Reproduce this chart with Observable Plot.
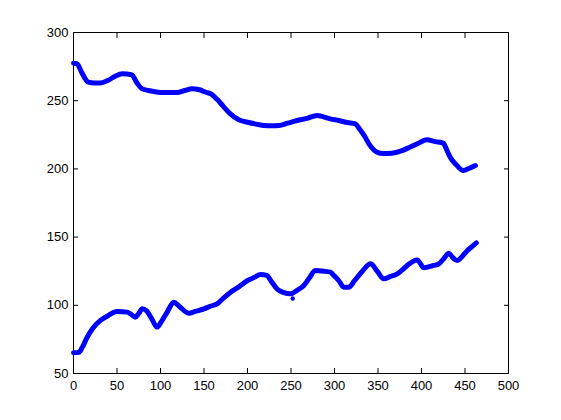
<!DOCTYPE html>
<html><head><meta charset="utf-8">
<script src="https://cdn.jsdelivr.net/npm/d3@7"></script>
<script src="https://cdn.jsdelivr.net/npm/@observablehq/plot@0.6"></script>
<style>
html,body{margin:0;padding:0;background:#fff;}
svg{font-family:"Liberation Sans",Arial,sans-serif;}
</style></head><body>
<div id="chart"></div>
<script>
const upperX = [0,4,10,17,24,31,40,48,56,62,67,73,79,86,92,100,110,119,128,136,145,152,158,165,172,180,190,200,210,219,228,236,246,257,268,280,288,295,305,315,324,329,334,340,345,349,356,366,376,387,397,406,416,425,429,433,440,448,455,462];
const upperY = [277.5,277,270,263.6,263,263,265,268,269.7,269.5,269,263,258.7,257.5,256.7,256,256,256,257.5,258.7,258,256.2,255,251,246,240.5,236,234.2,232.8,231.8,231.6,231.8,233.5,235.5,237,239.2,238,236.7,235.5,234,233,229,224.5,218,214,212.2,211.2,211.5,213,216,219,221.3,220,218.9,214,208.6,203,198.8,200.5,202.5];
const lowerX = [0,6,10,15.7,22,31,40,50,61.7,66,71,75,79,84,90,96,101,107.7,115.3,122,132.6,140,150,158,165,172,180.5,190,199.6,208,215,222,228,234,241,249.4,257,264.7,271,278,288,295.4,299,305,310.7,316.5,323,332,341.4,349,356.7,364,372,378,383.6,395,402.7,414,420,426,431.4,436,441,447,452.5,458,463];
const lowerY = [65.2,65.5,69,76.6,83,88.9,92.5,95.4,95,93.5,91.3,94,97.4,96,90,84,88,95,102.3,99,94.2,95.5,97.4,99.5,101,105,109.6,113.5,118,120.5,122.6,122,117,112,109.5,108.4,111,114.5,120,125.5,125,124.3,122,118,113.3,113.3,118,125,130.4,125,119.4,121,123,126,129.2,133.3,127.5,129.2,130.4,134.5,138.2,135,132.8,136,140,143,145.8];
const strayX = [252];
const strayY = [105];
const xTicks = [0,50,100,150,200,250,300,350,400,450,500];
const yTicks = [50,100,150,200,250,300];

const upper = upperX.map((x,i)=>({x, y: upperY[i]}));
const lower = lowerX.map((x,i)=>({x, y: lowerY[i]}));
const stray = strayX.map((x,i)=>({x, y: strayY[i]}));
const blue = "#0000ff";

const chart = Plot.plot({
  width: 561, height: 420,
  marginLeft: 73, marginRight: 53, marginTop: 32, marginBottom: 47,
  style: {fontSize: "13px", fontFamily: "'Liberation Sans', Arial, sans-serif", color: "#000", background: "#fff"},
  x: {domain: [0, 500], ticks: xTicks},
  y: {domain: [50, 300], ticks: yTicks},
  marks: [
    Plot.frame({stroke: "#000"}),
    Plot.axisX({anchor: "bottom", ticks: xTicks, tickSize: -5, tickPadding: 12, label: null, fontSize: 13}),
    Plot.axisX({anchor: "top", ticks: xTicks, tickSize: -5, tickFormat: () => "", label: null}),
    Plot.axisY({anchor: "left", ticks: yTicks, tickSize: -5, tickPadding: 10, label: null, fontSize: 13}),
    Plot.axisY({anchor: "right", ticks: yTicks, tickSize: -5, tickFormat: () => "", label: null}),
    Plot.line(upper, {x: "x", y: "y", stroke: blue, strokeWidth: 5, curve: "monotone-x", strokeLinecap: "round", strokeLinejoin: "round"}),
    Plot.line(lower, {x: "x", y: "y", stroke: blue, strokeWidth: 5, curve: "monotone-x", strokeLinecap: "round", strokeLinejoin: "round"}),
    Plot.dot(stray, {x: "x", y: "y", fill: blue, r: 2.2})
  ]
});
document.getElementById("chart").appendChild(chart);
</script>
</body></html>
